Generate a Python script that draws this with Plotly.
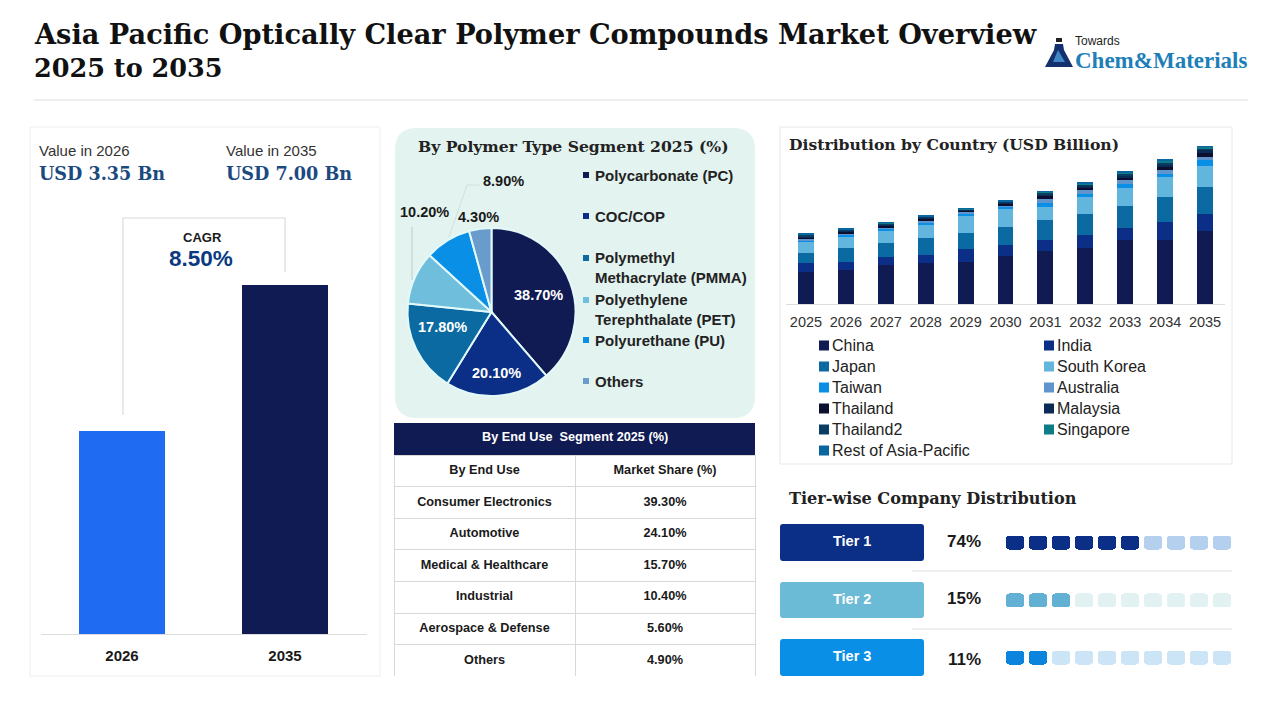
import plotly.graph_objects as go

# --- Data ---
years = ["2025", "2026", "2027", "2028", "2029", "2030", "2031", "2032", "2033", "2034", "2035"]
china = [1.44, 1.51, 1.73, 1.81, 1.88, 2.15, 2.36, 2.50, 2.84, 2.84, 3.24]
india = [0.37, 0.37, 0.37, 0.37, 0.55, 0.47, 0.49, 0.56, 0.55, 0.79, 0.74]
japan = [0.44, 0.62, 0.59, 0.74, 0.74, 0.81, 0.89, 0.96, 0.96, 1.11, 1.20]
south_korea = [0.49, 0.49, 0.55, 0.59, 0.76, 0.79, 0.59, 0.74, 0.81, 0.89, 0.96]
taiwan = [0.10, 0.10, 0.12, 0.13, 0.10, 0.10, 0.18, 0.15, 0.18, 0.15, 0.25]
australia = [0.05, 0.05, 0.06, 0.06, 0.06, 0.07, 0.15, 0.15, 0.15, 0.18, 0.15]
thailand = [0.07, 0.07, 0.07, 0.08, 0.06, 0.07, 0.12, 0.11, 0.13, 0.14, 0.17]
malaysia = [0.06, 0.05, 0.05, 0.05, 0.04, 0.05, 0.09, 0.09, 0.11, 0.11, 0.13]
thailand2 = [0.06, 0.04, 0.04, 0.04, 0.03, 0.04, 0.07, 0.07, 0.08, 0.08, 0.09]
singapore = [0.03, 0.03, 0.03, 0.03, 0.02, 0.02, 0.05, 0.04, 0.05, 0.07, 0.05]
rest_apac = [0.03, 0.02, 0.02, 0.02, 0.01, 0.01, 0.03, 0.03, 0.03, 0.04, 0.03]

country_names = ["China", "India", "Japan", "South Korea", "Taiwan", "Australia", "Thailand",
                 "Malaysia", "Thailand2", "Singapore", "Rest of Asia-Pacific"]
country_values = [china, india, japan, south_korea, taiwan, australia, thailand,
                  malaysia, thailand2, singapore, rest_apac]
country_colors = ["#0F1B52", "#0B2F86", "#0A6AA1", "#62B6DE", "#0A8FE6", "#5F95CC", "#0B1030",
                  "#0B2A55", "#0A3D62", "#0E7C86", "#0A66A0"]

value_years = ["2026", "2035"]
value_bars = [4.07, 7.00]  # drawn heights, the picture is not to scale with 3.35 / 7.00
value_colors = ["#1F6BF2", "#0F1B52"]

polymer_names = ["Polycarbonate (PC)", "COC/COP", "Polymethyl<br>Methacrylate (PMMA)",
                 "Polyethylene<br>Terephthalate (PET)", "Polyurethane (PU)", "Others"]
polymer_share = [38.7, 20.1, 17.8, 10.2, 8.9, 4.3]
polymer_colors = ["#0F1B52", "#0B2F86", "#0A6AA1", "#6FBEDC", "#0A8FE6", "#6A9CCB"]

end_uses = ["Consumer Electronics", "Automotive", "Medical & Healthcare", "Industrial",
            "Aerospace & Defense", "Others"]
end_use_share = ["39.30%", "24.10%", "15.70%", "10.40%", "5.60%", "4.90%"]

tiers = ["Tier 1", "Tier 2", "Tier 3"]
tier_share = ["74%", "15%", "11%"]
tier_filled = [6, 3, 2]
tier_colors = ["#0B2F86", "#6BBAD6", "#0A8FE6"]
tier_off_colors = ["#B5D0EE", "#E2F1F1", "#CBE5F6"]
tier_dot_colors = ["#0B2F86", "#62B0D4", "#0A84DC"]

SERIF = "DejaVu Serif"
SANS = "Liberation Sans"
DARK = "#1A1A1A"
BLUE_TEXT = "#1B4A80"

W, H = 1280, 720


def px(x):
    return x / W


def py(y):
    return 1 - y / H


def ybox(top, bottom):
    return [py(bottom), py(top)]


shapes = []
notes = []


def rect(x0, y0, x1, y1, fill=None, line=None, r=0, width=1):
    # rounded box in picture pixels
    a, b, c, d = px(x0), py(y0), px(x1), py(y1)
    rx, ry = r / W, r / H
    path = (f"M{a + rx},{b} L{c - rx},{b} Q{c},{b} {c},{b - ry} L{c},{d + ry} Q{c},{d} {c - rx},{d} "
            f"L{a + rx},{d} Q{a},{d} {a},{d + ry} L{a},{b - ry} Q{a},{b} {a + rx},{b} Z")
    shapes.append(dict(type="path", path=path, xref="paper", yref="paper", layer="below",
                       fillcolor=fill or "rgba(0,0,0,0)",
                       line=dict(color=line or "rgba(0,0,0,0)", width=width if line else 0)))


def seg(points, color="#DADADA", width=1.2):
    path = "M" + " L".join(f"{px(x)},{py(y)}" for x, y in points)
    shapes.append(dict(type="path", path=path, xref="paper", yref="paper", layer="below",
                       line=dict(color=color, width=width)))


def label(x, y, s, size=14, color=DARK, family=SANS, bold=False, anchor="left"):
    # annotations pad their text by about 2px on the left
    x = x - 2 if anchor == "left" else x
    notes.append(dict(x=px(x), y=py(y), xref="paper", yref="paper", text=s, showarrow=False,
                      xanchor=anchor, yanchor="middle", align="left",
                      font=dict(size=size, color=color, family=family,
                                weight="bold" if bold else "normal")))


fig = go.Figure()

# --- Value bars (left card) ---
rect(30, 127, 380, 676, fill="white", line="#EEEEEE")
fig.add_trace(go.Bar(x=value_years, y=value_bars, marker=dict(color=value_colors, line_width=0),
                     width=0.53, xaxis="x", yaxis="y", showlegend=False))

# --- Stacked bars by country ---
rect(780, 127, 1232, 464, fill="white", line="#E8E8E8")
for name, vals, col in zip(country_names, country_values, country_colors):
    fig.add_trace(go.Bar(x=years, y=vals, name=name, marker=dict(color=col, line_width=0),
                         width=0.4, xaxis="x2", yaxis="y2", showlegend=False))

# --- Pie ---
rect(395, 128, 755, 418, fill="#E3F3F0", r=22)
fig.add_trace(go.Pie(values=polymer_share, labels=polymer_names, sort=False, direction="clockwise",
                     rotation=0, textinfo="none", showlegend=False,
                     marker=dict(colors=polymer_colors, line=dict(color="#E3F9F9", width=2)),
                     domain=dict(x=[px(407.5), px(575.5)], y=ybox(228, 396))))

# --- Table ---
fig.add_trace(go.Table(
    domain=dict(x=[px(394), px(755)], y=ybox(455, 676.5)),
    columnwidth=[181, 180],
    header=dict(values=["<b>By End Use</b>", "<b>Market Share (%)</b>"], height=31.6,
                fill_color="white", line_color="#D9D9D9", align="center",
                font=dict(size=12.7, color=DARK, family=SANS)),
    cells=dict(values=[[f"<b>{u}</b>" for u in end_uses], [f"<b>{s}</b>" for s in end_use_share]],
               height=31.6, fill_color="white", line_color="#D9D9D9", align="center",
               font=dict(size=12.7, color=DARK, family=SANS)),
))

# --- Tier pills ---
for row, (filled, on, off) in enumerate(zip(tier_filled, tier_dot_colors, tier_off_colors), start=1):
    slots = list(range(1, 11))
    fig.add_trace(go.Bar(x=slots, y=[0.235] * 10, base=row - 0.1175, width=0.78, showlegend=False,
                         marker=dict(color=[on if s <= filled else off for s in slots], line_width=0),
                         xaxis="x3", yaxis="y3"))

# --- Header ---
label(34, 34, "Asia Pacific Optically Clear Polymer Compounds Market Overview", 27.2, "#111111", SERIF, True)
label(34, 68, "2025 to 2035", 25.5, "#111111", SERIF, True)
seg([(34, 100), (1248, 100)], "#DDDDDD", 1)

# logo
shapes.append(dict(type="path", xref="paper", yref="paper", fillcolor="#14306E", line_width=0,
                   path=f"M{px(1045)},{py(67)} L{px(1054)},{py(50)} L{px(1055)},{py(44)} L{px(1063)},{py(44)} "
                        f"L{px(1064)},{py(50)} L{px(1073)},{py(67)} Z"))
shapes.append(dict(type="path", xref="paper", yref="paper", fillcolor="#3F88C5", line_width=0,
                   path=f"M{px(1053)},{py(62)} L{px(1058)},{py(50)} L{px(1065)},{py(62)} Z"))
rect(1056, 38, 1062, 42, fill="#222222")
label(1075, 41, "Towards", 12, "#222222")
label(1075, 60, "Chem&Materials", 23, "#1E7FB8", "Liberation Serif", True)

# --- Left card text ---
label(39, 150, "Value in 2026", 15, "#333333")
label(226, 150, "Value in 2035", 15, "#333333")
label(39, 173, "USD 3.35 Bn", 17.6, BLUE_TEXT, SERIF, True)
label(226, 173, "USD 7.00 Bn", 17.6, BLUE_TEXT, SERIF, True)
seg([(123, 415), (123, 218), (285, 218), (285, 272)])
label(202, 238, "CAGR", 13, DARK, SANS, True, "center")
label(201, 258, "8.50%", 22.5, "#0B3A80", SANS, True, "center")

# --- Pie text ---
label(573, 147, "By Polymer Type Segment 2025 (%)", 15.6, "#222222", SERIF, True, "center")
seg([(412, 227), (412, 280)], "#B8CCCC", 1)
seg([(449, 237), (467, 185), (480, 185)], "#CFE0E0", 1)
pie_text = [(538, 295, "white"), (496, 373, "white"), (442, 327, "white"),
            (424, 212, DARK), (503, 181, DARK), (478, 217, DARK)]
for (x, y, col), share in zip(pie_text, polymer_share):
    label(x, y, f"{share:.2f}%", 14.5, col, SANS, True, "center")
legend_rows = [175, 216, 267, 309, 340, 381]
for y, name, col in zip(legend_rows, polymer_names, polymer_colors):
    dot = y - 9 if "<br>" in name else y
    rect(583, dot - 3, 589, dot + 3, fill=col)
    label(595, y, name, 15, "#222222", SANS, True)

# --- End use title bar ---
rect(394, 423, 755, 455, fill="#0F1B52")
label(575, 437, "By End Use  Segment 2025 (%)", 12.7, "white", SANS, True, "center")

# --- Country text ---
label(789, 145, "Distribution by Country (USD Billion)", 15.6, "#222222", SERIF, True)
for i, (name, col) in enumerate(zip(country_names, country_colors)):
    x = 819 if i % 2 == 0 else 1044
    y = 345.5 + 21 * (i // 2)
    rect(x, y - 5, x + 10, y + 5, fill=col)
    label(x + 13, y, name, 16, "#222222")

# --- Tier text ---
label(789, 498, "Tier-wise Company Distribution", 16.1, "#222222", SERIF, True)
pill_tops = [(524, 561), (582, 618), (639, 676)]
pill_text = [541, 599, 656]
pct_rows = [541, 598, 659]
for (top, bottom), name, col, pct, y, ty in zip(pill_tops, tiers, tier_colors, tier_share, pct_rows, pill_text):
    rect(780, top, 924, bottom, fill=col, r=3)
    label(852, ty, name, 14.5, "white", SANS, True, "center")
    label(964, y, pct, 17, DARK, SANS, True, "center")
seg([(912, 571), (1232, 571)], "#DDDDDD", 1)
seg([(912, 629), (1232, 629)], "#DDDDDD", 1)

fig.update_layout(
    width=W, height=H, margin=dict(l=0, r=0, t=0, b=0), paper_bgcolor="white", plot_bgcolor="rgba(0,0,0,0)",
    barmode="stack", shapes=shapes, annotations=notes,
    xaxis=dict(domain=[px(40.5), px(366.5)], type="category", showgrid=False, showline=True,
               linecolor="#DDDDDD", ticks="", ticklabelstandoff=8,
               tickfont=dict(size=15, color=DARK, family=SANS, weight="bold")),
    yaxis=dict(domain=ybox(200, 634), range=[0, 7.0 * 434 / 349], visible=False),
    xaxis2=dict(domain=[px(786), px(1225)], type="category", anchor="y2", showgrid=False, showline=True,
                linecolor="#DDDDDD", ticks="", ticklabelstandoff=5,
                tickfont=dict(size=14.5, color="#333333", family=SANS)),
    yaxis2=dict(domain=ybox(144, 304), range=[0, 7.11], visible=False, anchor="x2"),
    xaxis3=dict(domain=[px(1003.5), px(1233.5)], range=[0.5, 10.5], visible=False, anchor="y3"),
    yaxis3=dict(domain=ybox(514, 686.5), range=[3.5, 0.5], visible=False, anchor="x3"),
)
# only the pills get rounded corners
fig.update_traces(marker_cornerradius=3, selector=dict(xaxis="x3"))

fig.write_html("out.html", config=dict(displayModeBar=False),
               post_script="document.body.style.margin='0';")
